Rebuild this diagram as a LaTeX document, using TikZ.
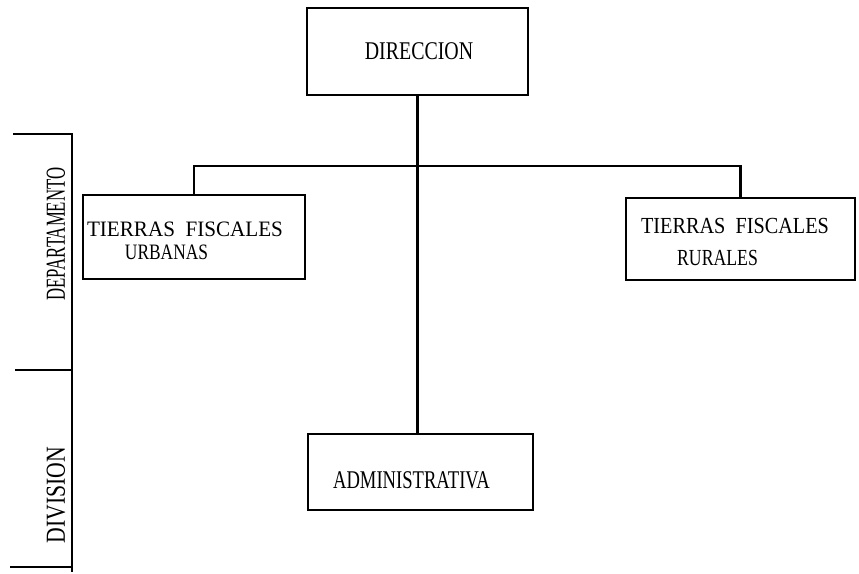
\documentclass[tikz,border=0pt]{standalone}
\usepackage{fontspec}
\setmainfont{Liberation Serif}
\begin{document}
\begin{tikzpicture}[x=1pt,y=-1pt,
  box/.style={draw, line width=2.2pt, inner sep=0pt},
  lbl/.style={inner sep=0pt, anchor=center},
  wire/.style={line width=2.2pt}]
\useasboundingbox (0,0) rectangle (859,573);
% boxes
\node[box, minimum width=221pt, minimum height=87pt] (dir) at (417.5,51.5) {};
\node[box, minimum width=222pt, minimum height=84pt] (urb) at (194,237) {};
\node[box, minimum width=229pt, minimum height=82pt] (rur) at (740.5,239) {};
\node[box, minimum width=225pt, minimum height=76pt] (adm) at (420.5,472) {};
% texts
\node[lbl] (tdir) at (419,51.5) {\fontsize{25.5}{28}\selectfont\scalebox{0.78}[1]{DIRECCION}};
\node[lbl] (turb1) at (185,229) {\fontsize{22}{24}\selectfont\scalebox{0.96}[1]{TIERRAS\ \ FISCALES}};
\node[lbl] (turb2) at (166.5,252.5) {\fontsize{22}{24}\selectfont\scalebox{0.79}[1]{URBANAS}};
\node[lbl] (trur1) at (735,225.5) {\fontsize{23}{25}\selectfont\scalebox{0.88}[1]{TIERRAS\ \ FISCALES}};
\node[lbl] (trur2) at (717.5,257.5) {\fontsize{23}{25}\selectfont\scalebox{0.77}[1]{RURALES}};
\node[lbl] (tadm) at (411.5,480) {\fontsize{25.5}{28}\selectfont\scalebox{0.73}[1]{ADMINISTRATIVA}};
\node[lbl, rotate=90] (tdep) at (56,234) {\fontsize{27.5}{30}\selectfont\scalebox{0.61}[1]{DEPARTAMENTO}};
\node[lbl, rotate=90] (tdiv) at (56,495) {\fontsize{27.5}{30}\selectfont\scalebox{0.79}[1]{DIVISION}};
% connectors
\draw[wire] (dir.south) -- (dir.south |- adm.north);
\draw[wire] (urb.north) -- ++(0,-28) -| (rur.north);
% left bracket
\coordinate (b1) at (13,134);
\coordinate (b2) at (72,134);
\coordinate (b3) at (72,572);
\coordinate (m1) at (15,370);
\coordinate (m2) at (72,370);
\coordinate (e1) at (10,567);
\coordinate (e2) at (72,567);
\draw[wire] (b1) -- (b2) -- (b3);
\draw[wire] (m1) -- (m2);
\draw[wire] (e1) -- (e2);
\end{tikzpicture}
\end{document}
